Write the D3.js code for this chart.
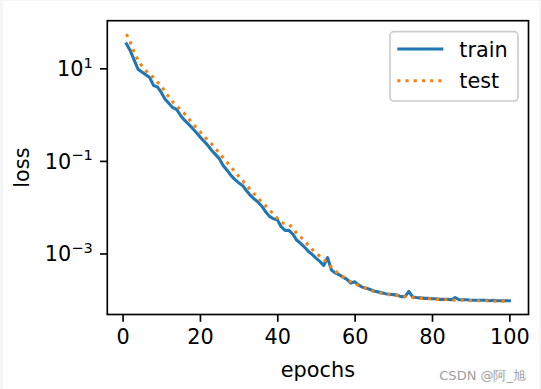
<!DOCTYPE html>
<html>
<head>
<meta charset="utf-8">
<script src="https://cdn.jsdelivr.net/npm/d3@7"></script>
<style>
  body { margin: 0; background: #f4f5f7; }
  svg { display: block; }
  text { font-family: "DejaVu Sans", sans-serif; }
</style>
</head>
<body>
<svg id="chart" width="541" height="389"></svg>
<script>
// values, one per epoch
let epochs = d3.range(1, 101);

let train_loss = [
  33.9, 24.0, 15.1, 9.55, 8.32, 7.24, 6.31, 4.27, 3.98, 3.02,
  2.14, 1.74, 1.41, 1.29, 0.955, 0.759, 0.631, 0.513, 0.417, 0.331,
  0.269, 0.219, 0.170, 0.138, 0.112, 0.0794, 0.0631, 0.0490, 0.0398, 0.0339,
  0.0295, 0.0229, 0.0182, 0.0151, 0.0129, 0.0105, 0.00794, 0.00631, 0.00562, 0.00537,
  0.00380, 0.00316, 0.00316, 0.00263, 0.00195, 0.00166, 0.00138, 0.00112, 0.000955, 0.000794,
  0.000676, 0.000550, 0.000813, 0.000437, 0.000380, 0.000347, 0.000309, 0.000275, 0.000229, 0.000245,
  0.000209, 0.000186, 0.000178, 0.000166, 0.000155, 0.000148, 0.000141, 0.000135, 0.000132, 0.000129,
  0.000126, 0.000117, 0.000117, 0.000151, 0.000115, 0.000112, 0.000110, 0.000107, 0.000107, 0.000105,
  0.000105, 0.000102, 0.000102, 0.000102, 0.000100, 0.000112, 0.000100, 0.000100, 0.000100, 0.0000977,
  0.0000977, 0.0000977, 0.0000977, 0.0000977, 0.0000955, 0.0000977, 0.0000955, 0.0000955, 0.0000955, 0.0000955
];

let test_loss = [
  55.0, 36.3, 22.4, 15.1, 11.2, 8.91, 7.41, 6.31, 5.01, 4.27,
  3.02, 2.40, 1.86, 1.58, 1.26, 1.05, 0.832, 0.661, 0.525, 0.427,
  0.347, 0.282, 0.234, 0.186, 0.148, 0.117, 0.0933, 0.0741, 0.0589, 0.0468,
  0.0380, 0.0302, 0.0240, 0.0195, 0.0158, 0.0129, 0.0107, 0.00871, 0.00708, 0.00575,
  0.00468, 0.00437, 0.00427, 0.00355, 0.00275, 0.00229, 0.00186, 0.00151, 0.00123, 0.00102,
  0.000871, 0.000741, 0.000631, 0.000501, 0.000417, 0.000355, 0.000316, 0.000275, 0.000245, 0.000224,
  0.000204, 0.000191, 0.000174, 0.000162, 0.000151, 0.000145, 0.000138, 0.000132, 0.000129, 0.000126,
  0.000123, 0.000120, 0.000117, 0.000115, 0.000112, 0.000110, 0.000107, 0.000107, 0.000105, 0.000105,
  0.000102, 0.000102, 0.000102, 0.000100, 0.000100, 0.0000977, 0.0000977, 0.0000977, 0.0000977, 0.0000955,
  0.0000955, 0.0000955, 0.0000955, 0.0000955, 0.0000933, 0.0000933, 0.0000933, 0.0000933, 0.0000933, 0.0000933
];

let x_ticks = [0, 20, 40, 60, 80, 100];
let y_ticks = [1e1, 1e-1, 1e-3];
let y_tick_exp = ["1", "\u22121", "\u22123"];
let series_names = ["train", "test"];
let series_colors = ["#1f77b4", "#ff7f0e"];

let svg = d3.select("#chart");
let W = 541, H = 389;
let box = {left: 107.3, right: 528.5, top: 20.7, bottom: 314.5};

// light page strip around a white figure
svg.append("rect").attr("x", 3).attr("y", 1).attr("width", W - 5).attr("height", H - 1).attr("fill", "white");

// matplotlib style 5% margins (log space for y)
let x = d3.scaleLinear()
  .domain([1 - 0.05 * 99, 100 + 0.05 * 99])
  .range([box.left, box.right]);

let all = train_loss.concat(test_loss);
let lo = Math.log10(d3.min(all)), hi = Math.log10(d3.max(all));
let m = (hi - lo) * 0.05;
let y = d3.scaleLog()
  .domain([Math.pow(10, lo - m), Math.pow(10, hi + m)])
  .range([box.bottom, box.top]);

svg.append("clipPath").attr("id", "clip")
  .append("rect")
  .attr("x", box.left).attr("y", box.top)
  .attr("width", box.right - box.left).attr("height", box.bottom - box.top);

let line = d3.line()
  .x((d, i) => x(epochs[i]))
  .y(d => y(d));

let lines = svg.append("g").attr("clip-path", "url(#clip)");
lines.append("path")
  .attr("d", line(train_loss))
  .attr("fill", "none")
  .attr("stroke", series_colors[0])
  .attr("stroke-width", 3.1)
  .attr("stroke-linejoin", "round")
  .attr("stroke-linecap", "square");
lines.append("path")
  .attr("d", line(test_loss))
  .attr("fill", "none")
  .attr("stroke", series_colors[1])
  .attr("stroke-width", 3.1)
  .attr("stroke-dasharray", "3.1 5.1");

// axes
let xAxis = d3.axisBottom(x)
  .tickValues(x_ticks)
  .tickSize(7.3)
  .tickPadding(7.3)
  .tickFormat(d3.format("d"));
let gx = svg.append("g")
  .attr("transform", `translate(0 ${box.bottom})`)
  .call(xAxis);
gx.select(".domain").remove();
gx.selectAll(".tick line").attr("stroke", "black").attr("stroke-width", 1.67);
gx.selectAll(".tick text")
  .attr("font-family", "DejaVu Sans")
  .attr("font-size", 20.8)
  .attr("fill", "black");

let yAxis = d3.axisLeft(y)
  .tickValues(y_ticks)
  .tickSize(7.3)
  .tickPadding(7.3)
  .tickFormat("");
let gy = svg.append("g")
  .attr("transform", `translate(${box.left} 0)`)
  .call(yAxis);
gy.select(".domain").remove();
gy.selectAll(".tick line").attr("stroke", "black").attr("stroke-width", 1.67);
gy.selectAll(".tick text").remove();
gy.selectAll(".tick").each(function(d, i) {
  let t = d3.select(this).append("text")
    .attr("x", -14.6)
    .attr("y", 7.5)
    .attr("text-anchor", "end")
    .attr("font-family", "DejaVu Sans")
    .attr("font-size", 20.8)
    .attr("fill", "black");
  t.append("tspan").text("10");
  t.append("tspan")
    .attr("font-size", 14.6)
    .attr("dy", -8.5)
    .text(y_tick_exp[i]);
});

// spines
svg.append("rect")
  .attr("x", box.left).attr("y", box.top)
  .attr("width", box.right - box.left).attr("height", box.bottom - box.top)
  .attr("fill", "none")
  .attr("stroke", "black")
  .attr("stroke-width", 1.67);

// axis labels
svg.append("text")
  .attr("x", (box.left + box.right) / 2)
  .attr("y", 376.5)
  .attr("text-anchor", "middle")
  .attr("font-size", 20.8)
  .text("epochs");
svg.append("text")
  .attr("transform", `translate(29 ${(box.top + box.bottom) / 2}) rotate(-90)`)
  .attr("text-anchor", "middle")
  .attr("font-size", 20.8)
  .text("loss");

// legend
let lg = svg.append("g");
lg.append("rect")
  .attr("x", 390).attr("y", 31.7)
  .attr("width", 128).attr("height", 69.3)
  .attr("rx", 4)
  .attr("fill", "white")
  .attr("fill-opacity", 0.8)
  .attr("stroke", "#cccccc")
  .attr("stroke-width", 1.67);
series_names.forEach((name, i) => {
  let yy = 49 + i * 31.7;
  lg.append("line")
    .attr("x1", 397.3).attr("x2", 443.3)
    .attr("y1", yy).attr("y2", yy)
    .attr("stroke", series_colors[i])
    .attr("stroke-width", 3.1)
    .attr("stroke-dasharray", i == 1 ? "3.1 5.1" : null);
  lg.append("text")
    .attr("x", 459.3)
    .attr("y", yy + 7.6)
    .attr("font-size", 20.8)
    .text(name);
});

// watermark
svg.append("text")
  .attr("x", 526)
  .attr("y", 380)
  .attr("text-anchor", "end")
  .attr("font-family", "Noto Sans CJK SC")
  .attr("font-size", 13)
  .attr("fill", "#a0a0a0")
  .text("CSDN @阿_旭");
</script>
</body>
</html>
